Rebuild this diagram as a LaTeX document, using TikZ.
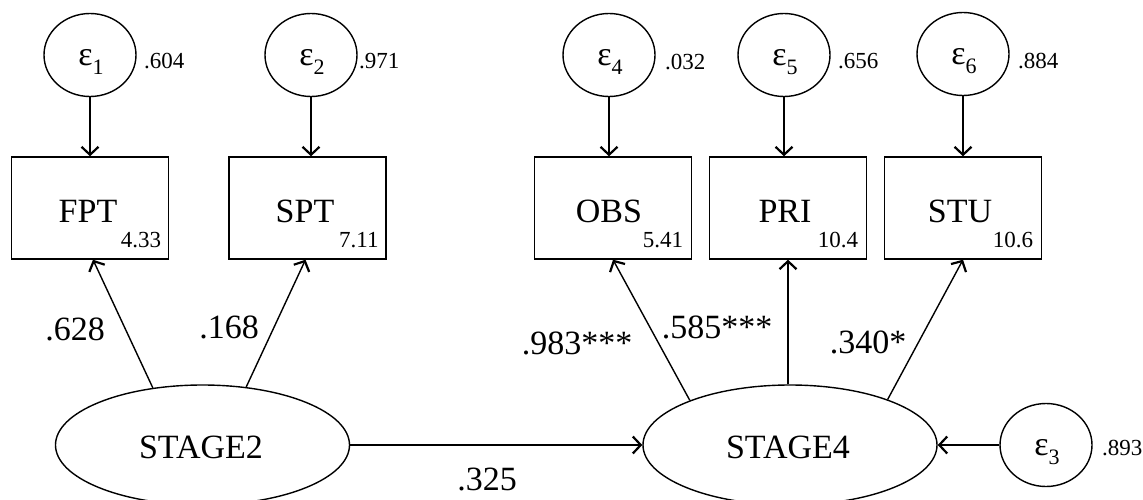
\documentclass[tikz,border=0pt]{standalone}
\usepackage{fontspec}
\setmainfont{Liberation Serif}
\usetikzlibrary{arrows.meta,shapes.geometric,calc}
\begin{document}
\begin{tikzpicture}[x=1pt,y=-1pt,
  lw/.style={line width=1.4pt},
  latent/.style={draw,ellipse,lw,minimum width=294pt,minimum height=120pt,inner sep=0pt},
  errc/.style={draw,ellipse,lw,minimum width=92pt,minimum height=83pt,inner sep=0pt},
  epstext/.style={anchor=base,inner sep=0pt,font=\fontsize{34}{34}\selectfont},
  obsbox/.style={draw,rectangle,lw,minimum width=157pt,minimum height=102pt,inner sep=0pt},
  arr/.style={lw,-{Straight Barb[length=8pt,width=17pt,line width=2.2pt]}},
  varlbl/.style={font=\fontsize{23}{23}\selectfont,inner sep=0pt,anchor=west},
  intlbl/.style={font=\fontsize{23}{23}\selectfont,inner sep=0pt,anchor=base east},
  coef/.style={font=\fontsize{34}{34}\selectfont,inner sep=0pt}
]
\clip (0,0) rectangle (1143,500);
\fill[white] (0,0) rectangle (1143,500);
\newcommand{\eps}[1]{ε\raisebox{-9pt}{\fontsize{22}{22}\selectfont #1}}
% error circles
\node[errc] (e1) at (90,55) {};
\node[errc] (e2) at (311,55) {};
\node[errc] (e4) at (609,55) {};
\node[errc] (e5) at (784,55) {};
\node[errc] (e6) at (963,54) {};
\node[errc] (e3) at (1046,445) {};
\node[epstext] (t1) at ($(e1)+(1,11)$) {\eps{1}};
\node[epstext] (t2) at ($(e2)+(1,11)$) {\eps{2}};
\node[epstext] (t4) at ($(e4)+(1,11)$) {\eps{4}};
\node[epstext] (t5) at ($(e5)+(1,11)$) {\eps{5}};
\node[epstext] (t6) at ($(e6)+(1,11)$) {\eps{6}};
\node[epstext] (t3) at ($(e3)+(1,10)$) {\eps{3}};
% variances
\node[varlbl] (v1) at (144,61) {.604};
\node[varlbl] (v2) at (359,61) {.971};
\node[varlbl] (v4) at (665,62) {.032};
\node[varlbl] (v5) at (838,61) {.656};
\node[varlbl] (v6) at (1018,61) {.884};
\node[varlbl] (v3) at (1102,448) {.893};
% observed boxes
\node[obsbox] (fpt) at (90,208) {};
\node[obsbox] (spt) at (307.5,208) {};
\node[obsbox] (obs) at (613,208) {};
\node[obsbox] (pri) at (788,208) {};
\node[obsbox] (stu) at (963,208) {};
\node[coef] (tfpt) at (88,211) {FPT};
\node[coef] (tspt) at (305,211) {SPT};
\node[coef] (tobs) at (609,211) {OBS};
\node[coef] (tpri) at (785,211) {PRI};
\node[coef] (tstu) at (960,211) {STU};
\node[intlbl] (i1) at ($(fpt.south east)+(-8,-12)$) {4.33};
\node[intlbl] (i2) at ($(spt.south east)+(-8,-12)$) {7.11};
\node[intlbl] (i4) at ($(obs.south east)+(-9,-12)$) {5.41};
\node[intlbl] (i5) at ($(pri.south east)+(-9,-12)$) {10.4};
\node[intlbl] (i6) at ($(stu.south east)+(-9,-12)$) {10.6};
% latent variables
\node[latent] (s2) at (202.5,445) {};
\node[latent] (s4) at (790,445) {};
\node[coef] (ts2) at (201,447) {STAGE2};
\node[coef] (ts4) at (788,447) {STAGE4};
% error arrows
\draw[arr] (e1.south) -- (e1 |- fpt.north);
\draw[arr] (e2.south) -- (e2 |- spt.north);
\draw[arr] (e4.south) -- (e4 |- obs.north);
\draw[arr] (e5.south) -- (e5 |- pri.north);
\draw[arr] (e6.south) -- (e6 |- stu.north);
\draw[arr] (e3.west) -- (s4.east);
% loadings
\draw[arr] (s2.131) -- ($(fpt.south)+(3,0)$);
\draw[arr] (s2.53) -- ($(spt.south)+(-2,0)$);
\draw[arr] (s4.156) -- (obs.south);
\draw[arr] (s4.north -| pri.south) -- (pri.south);
\draw[arr] (s4.25) -- (stu.south);
\draw[arr] (s2.east) -- (s4.west);
% coefficients
\node[coef] (c1) at (75,329) {.628};
\node[coef] (c2) at (229,327) {.168};
\node[coef] (c3) at (577,343) {.983***};
\node[coef] (c4) at (717,327) {.585***};
\node[coef] (c5) at (868,342) {.340*};
\node[coef] (c6) at (487,479) {.325};
\end{tikzpicture}
\end{document}
